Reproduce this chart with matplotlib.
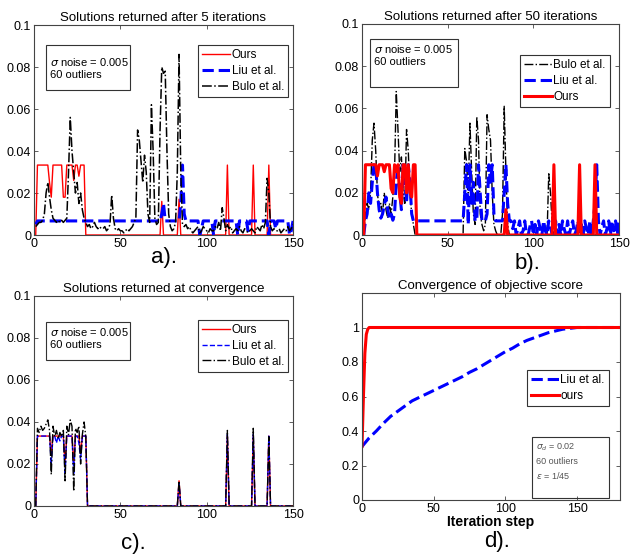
import matplotlib
matplotlib.use('Agg')
import matplotlib.pyplot as plt
import numpy as np
from matplotlib.patches import Rectangle

plt.rcParams['font.family'] = ['Liberation Sans', 'DejaVu Sans']

# values are in thousandths, one per outlier index 1..150
ours_a = ([0, 33.3, 33.3, 33.3, 33.3, 33.3, 33.3, 33.3, 25, 18,
           33.3, 33.3, 33.3, 33.3, 33.3, 33.3, 18, 18, 33.3, 33.3,
           33.3, 33.3, 26, 33.3, 33.3, 28, 33.3, 33.3, 33.3, 0]
          + [0] * 40
          + [0, 0, 0, 16, 0, 0, 0, 0, 0, 0,
             0, 0, 0, 17, 0, 0, 0, 0, 0, 0]
          + [0] * 20
          + [0, 33.3, 0, 0, 0, 0, 0, 0, 0, 0,
             0, 0, 0, 0, 0, 0, 33.3, 0, 0, 0,
             0, 0, 0, 0, 0, 33.3, 0, 0, 0, 0]
          + [0] * 10)

liu_a = ([5] + [6.7] * 72
         + [10, 15, 6.7, 6.7, 6.7, 6.7, 6.7, 6.7, 6.7, 6.7,
            6.7, 15, 33.3, 10, 6.7, 6.7, 6.7, 6.7, 6.7, 6.7,
            6.7, 6.7, 0, 3, 6.7, 6.7, 6.7, 6.7, 6.7, 6.7,
            0, 6.7, 6.7, 6.7, 6.7, 6.7, 6.7, 6.7, 6.7, 6.7,
            6.7, 6.7, 6.7, 6.7, 0, 6.7, 6.7, 6.7, 6.7, 6.7,
            2, 6.7, 6.7, 6.7, 6.7, 6.7, 6.7, 6.7, 6.7, 6.7,
            6.7, 6.7, 0, 6.7, 6.7, 6.7, 3, 6.7, 6.7, 6.7,
            6.7, 6.7, 6.7, 6.7, 0, 2, 6.7])

bulo_a = [4, 5, 6, 6, 7, 10, 20, 25, 18, 12,
          8, 7, 6, 7, 6, 7, 6, 7, 8, 30,
          56, 40, 30, 20, 25, 15, 20, 12, 8, 6,
          4, 5, 3, 4, 6, 4, 3, 4, 3, 3,
          4, 2, 3, 5, 19, 8, 3, 2, 3, 2,
          2, 1, 2, 3, 2, 3, 4, 6, 8, 50,
          45, 35, 25, 38, 30, 10, 6, 62, 40, 8,
          5, 6, 50, 80, 77, 78, 40, 10, 4, 2,
          3, 6, 30, 86, 30, 5, 4, 5, 3, 4,
          2, 1, 2, 3, 4, 1, 2, 4, 3, 2,
          1, 3, 2, 2, 4, 3, 6, 2, 13, 8,
          2, 5, 3, 4, 1, 2, 3, 2, 4, 2,
          1, 3, 2, 1, 2, 3, 2, 1, 4, 3,
          2, 5, 3, 6, 27, 20, 4, 2, 3, 2,
          2, 3, 1, 2, 3, 2, 4, 2, 3, 5]

ours_b = ([0, 33.3, 33.3, 33.3, 33.3, 33.3, 33.3, 33.3, 28, 33.3,
           33.3, 33.3, 30, 33.3, 33.3, 33.3, 22, 20, 33.3, 30,
           33.3, 18, 15, 33.3, 33.3, 20, 33.3, 20, 18, 33.3,
           33.3]
          + [0] * 52
          + [12]
          + [0] * 27
          + [33.3] + [0] * 14 + [33.3] + [0] * 8 + [33.3] + [0] * 14)

liu_b = ([0, 6.7, 10, 20, 15, 25, 33.3, 33, 20, 12,
          8, 10, 14, 18, 12, 8, 10, 7, 10, 25,
          33.3, 20, 12, 33.3, 28, 15, 33.3, 25, 10, 6.7]
         + [6.7] * 29
         + [20, 33.3, 5, 33.3, 15, 25, 6.7, 6.7, 33.3, 20,
            6.7, 6.7, 6.7, 10, 33.3, 25, 33.3, 10, 6.7, 6.7,
            6.7, 6.7, 6.7, 20, 33.3, 15, 6.7, 6.7, 3, 6.7,
            0, 3, 6.7, 0, 2, 6.7, 0, 0, 4, 6.7,
            0, 5, 0, 6.7, 3, 0, 6.7, 2, 0, 6.7,
            4, 0, 0, 6.7, 0, 5, 0, 6.7, 3, 0,
            6.7, 0, 4, 6.7, 0, 2, 6.7, 0, 5, 0,
            6.7, 3, 0, 6.7, 0, 6.7, 15, 33.3, 6.7, 0,
            4, 6.7, 0, 3, 6.7, 0, 6.7, 2, 6.7, 0,
            6.7])

bulo_b = ([0, 10, 15, 12, 20, 45, 53, 40, 20, 12,
           15, 10, 20, 12, 8, 15, 10, 18, 30, 68,
           50, 30, 37, 20, 15, 50, 40, 20, 10, 5]
          + [0] * 29
          + [41, 35, 20, 53, 30, 10, 5, 56, 45, 10,
             5, 2, 5, 57, 50, 45, 20, 5, 2, 0,
             0, 0, 10, 61, 30, 5]
          + [0] * 23
          + [29, 20, 5]
          + [0] * 39)

ours_c = ([0, 33.3, 33.3, 33.3, 33.3, 33.3, 33.3, 33.3, 33.3, 25,
           33.3, 33.3, 33.3, 33.3, 33.3, 33.3, 33.3, 20, 33.3, 33.3,
           33.3, 33.3, 20, 33.3, 33.3, 33.3, 25, 33.3, 33.3, 33.3]
          + [0] * 53 + [12] + [0] * 27
          + [33.3] + [0] * 14 + [33.3] + [0] * 8 + [33.3] + [0] * 14)

liu_c = ([0, 33.3, 33.3, 33.3, 33.3, 33.3, 33.3, 33.3, 33.3, 20,
          33.3, 33.3, 30, 33.3, 31, 33.3, 33.3, 15, 33.3, 33.3,
          33.3, 33.3, 15, 33.3, 33.3, 30, 22, 33.3, 33.3, 33.3]
         + [0] * 53 + [11] + [0] * 27
         + [34] + [0] * 14 + [34] + [0] * 8 + [33.3] + [0] * 14)

bulo_c = ([0, 37, 35, 38, 36, 37, 39, 41, 36, 15,
           38, 33, 36, 32, 35, 33, 36, 12, 38, 34,
           41, 38, 7, 37, 35, 38, 20, 34, 40, 33]
          + [0] * 53 + [12] + [0] * 27
          + [36] + [0] * 14 + [37] + [0] * 8 + [33] + [0] * 14)

# objective score vs iteration step
liu_d_x = [0, 5, 10, 15, 20, 25, 30, 35, 40, 45, 50, 55, 60, 65, 70, 75, 80,
           85, 90, 95, 100, 105, 110, 115, 120, 125, 130, 135, 140, 145, 150, 180]
liu_d_y = [0.31, 0.36, 0.40, 0.445, 0.485, 0.515, 0.545, 0.575, 0.595, 0.615,
           0.635, 0.655, 0.675, 0.695, 0.715, 0.74, 0.76, 0.785, 0.81, 0.835,
           0.86, 0.88, 0.905, 0.925, 0.94, 0.955, 0.97, 0.98, 0.99, 0.995, 1.0, 1.0]
ours_d_x = [0, 1, 2, 3, 4, 5, 180]
ours_d_y = [0.31, 0.6, 0.85, 0.96, 0.99, 1.0, 1.0]

idx = np.arange(1, 151)
W, H = 630, 555


def box(l, t, r, b):
    return [l / W, 1 - b / H, (r - l) / W, (b - t) / H]


def style(ax):
    for s in ax.spines.values():
        s.set_color('#444444')
        s.set_linewidth(0.8)
    ax.tick_params(direction='in', top=True, right=True, labelsize=9,
                   length=3, color='#444444', width=0.6, pad=2)


def solution_axes(rect, title):
    ax = fig.add_axes(rect)
    style(ax)
    ax.set_xlim(0, 150)
    ax.set_ylim(0, 0.1)
    ax.set_xticks([0, 50, 100, 150])
    ax.set_yticks([0, 0.02, 0.04, 0.06, 0.08, 0.1])
    ax.set_yticklabels(['0', '0.02', '0.04', '0.06', '0.08', '0.1'])
    ax.set_title(title, fontsize=9.5, pad=3)
    return ax


def note(ax, x0, y0, w, h, ty, text, fs=8, color='black', ls=1.2):
    ax.add_patch(Rectangle((x0, y0), w, h, transform=ax.transAxes, fill=False,
                           ec='#333333', lw=0.8, zorder=5))
    ax.text(x0 + 0.015, ty, text, transform=ax.transAxes, va='center',
            fontsize=fs, color=color, linespacing=ls, zorder=6)


def leg(ax, x, y):
    lg = ax.legend(loc='upper right', bbox_to_anchor=(x, y), fontsize=8.5,
                   fancybox=False, framealpha=1, edgecolor='#333333',
                   handlelength=2.4, handletextpad=0.1, labelspacing=0.32,
                   borderpad=0.35, borderaxespad=0)
    lg.get_frame().set_linewidth(0.8)


fig = plt.figure(figsize=(6.3, 5.55), dpi=100)

# a) after 5 iterations
ax = solution_axes(box(34, 25, 293, 235), 'Solutions returned after 5 iterations')
ax.plot(idx, np.array(ours_a) / 1000, color='red', lw=1.0, label='Ours')
ax.plot(idx, np.array(liu_a[:150]) / 1000, color='blue', lw=2.2, ls='--', label='Liu et al.')
ax.plot(idx, np.array(bulo_a) / 1000, color='black', lw=1.1, ls='-.', label='Bulo et al.')
leg(ax, 0.981, 0.905)
note(ax, 0.046, 0.69, 0.324, 0.214, 0.795, '$\\sigma$ noise = 0.005\n60 outliers')

# b) after 50 iterations
ax = solution_axes(box(362, 24, 619, 235), 'Solutions returned after 50 iterations')
ax.plot(idx, np.array(bulo_b) / 1000, color='black', lw=1.0, ls='-.', label='Bulo et al.')
ax.plot(idx, np.array(liu_b) / 1000, color='blue', lw=2.2, ls='--', label='Liu et al.')
ax.plot(idx, np.array(ours_b) / 1000, color='red', lw=2.2, label='Ours')
leg(ax, 0.965, 0.853)
note(ax, 0.031, 0.701, 0.342, 0.227, 0.853, '$\\sigma$ noise = 0.005\n60 outliers')

# c) at convergence
ax = solution_axes(box(34, 296, 293, 506), 'Solutions returned at convergence')
ax.plot(idx, np.array(ours_c) / 1000, color='red', lw=1.0, label='Ours')
ax.plot(idx, np.array(liu_c) / 1000, color='blue', lw=1.0, ls='--', label='Liu et al.')
ax.plot(idx, np.array(bulo_c) / 1000, color='black', lw=1.0, ls='-.', label='Bulo et al.')
leg(ax, 0.981, 0.886)
note(ax, 0.046, 0.695, 0.324, 0.182, 0.80, '$\\sigma$ noise = 0.005\n60 outliers')

# d) objective score
ax = fig.add_axes(box(362, 293, 620, 500))
style(ax)
ax.plot(liu_d_x, liu_d_y, color='blue', lw=2.2, ls='--', label='Liu et al.')
ax.plot(ours_d_x, ours_d_y, color='red', lw=2.2, label='ours')
ax.set_xlim(0, 180)
ax.set_ylim(0, 1.2)
ax.set_xticks([0, 50, 100, 150])
ax.set_yticks([0, 0.2, 0.4, 0.6, 0.8, 1.0])
ax.set_yticklabels(['0', '0.2', '0.4', '0.6', '0.8', '1'])
ax.set_title('Convergence of objective score', fontsize=9.5, pad=3)
ax.set_xlabel('Iteration step', fontsize=10, fontweight='bold', labelpad=0)
leg(ax, 0.957, 0.628)
note(ax, 0.659, 0.01, 0.298, 0.295, 0.185,
     '$\\sigma_d$ = 0.02\n60 outliers\n$\\epsilon$ = 1/45', fs=6.5, color='#555555', ls=1.5)

for label, x, y in [('a).', 164, 258), ('b).', 527, 263), ('c).', 133, 544), ('d).', 497, 542)]:
    fig.text(x / W, 1 - y / H, label, fontsize=16, ha='center', va='center')

fig.savefig('out.png', dpi=100)
